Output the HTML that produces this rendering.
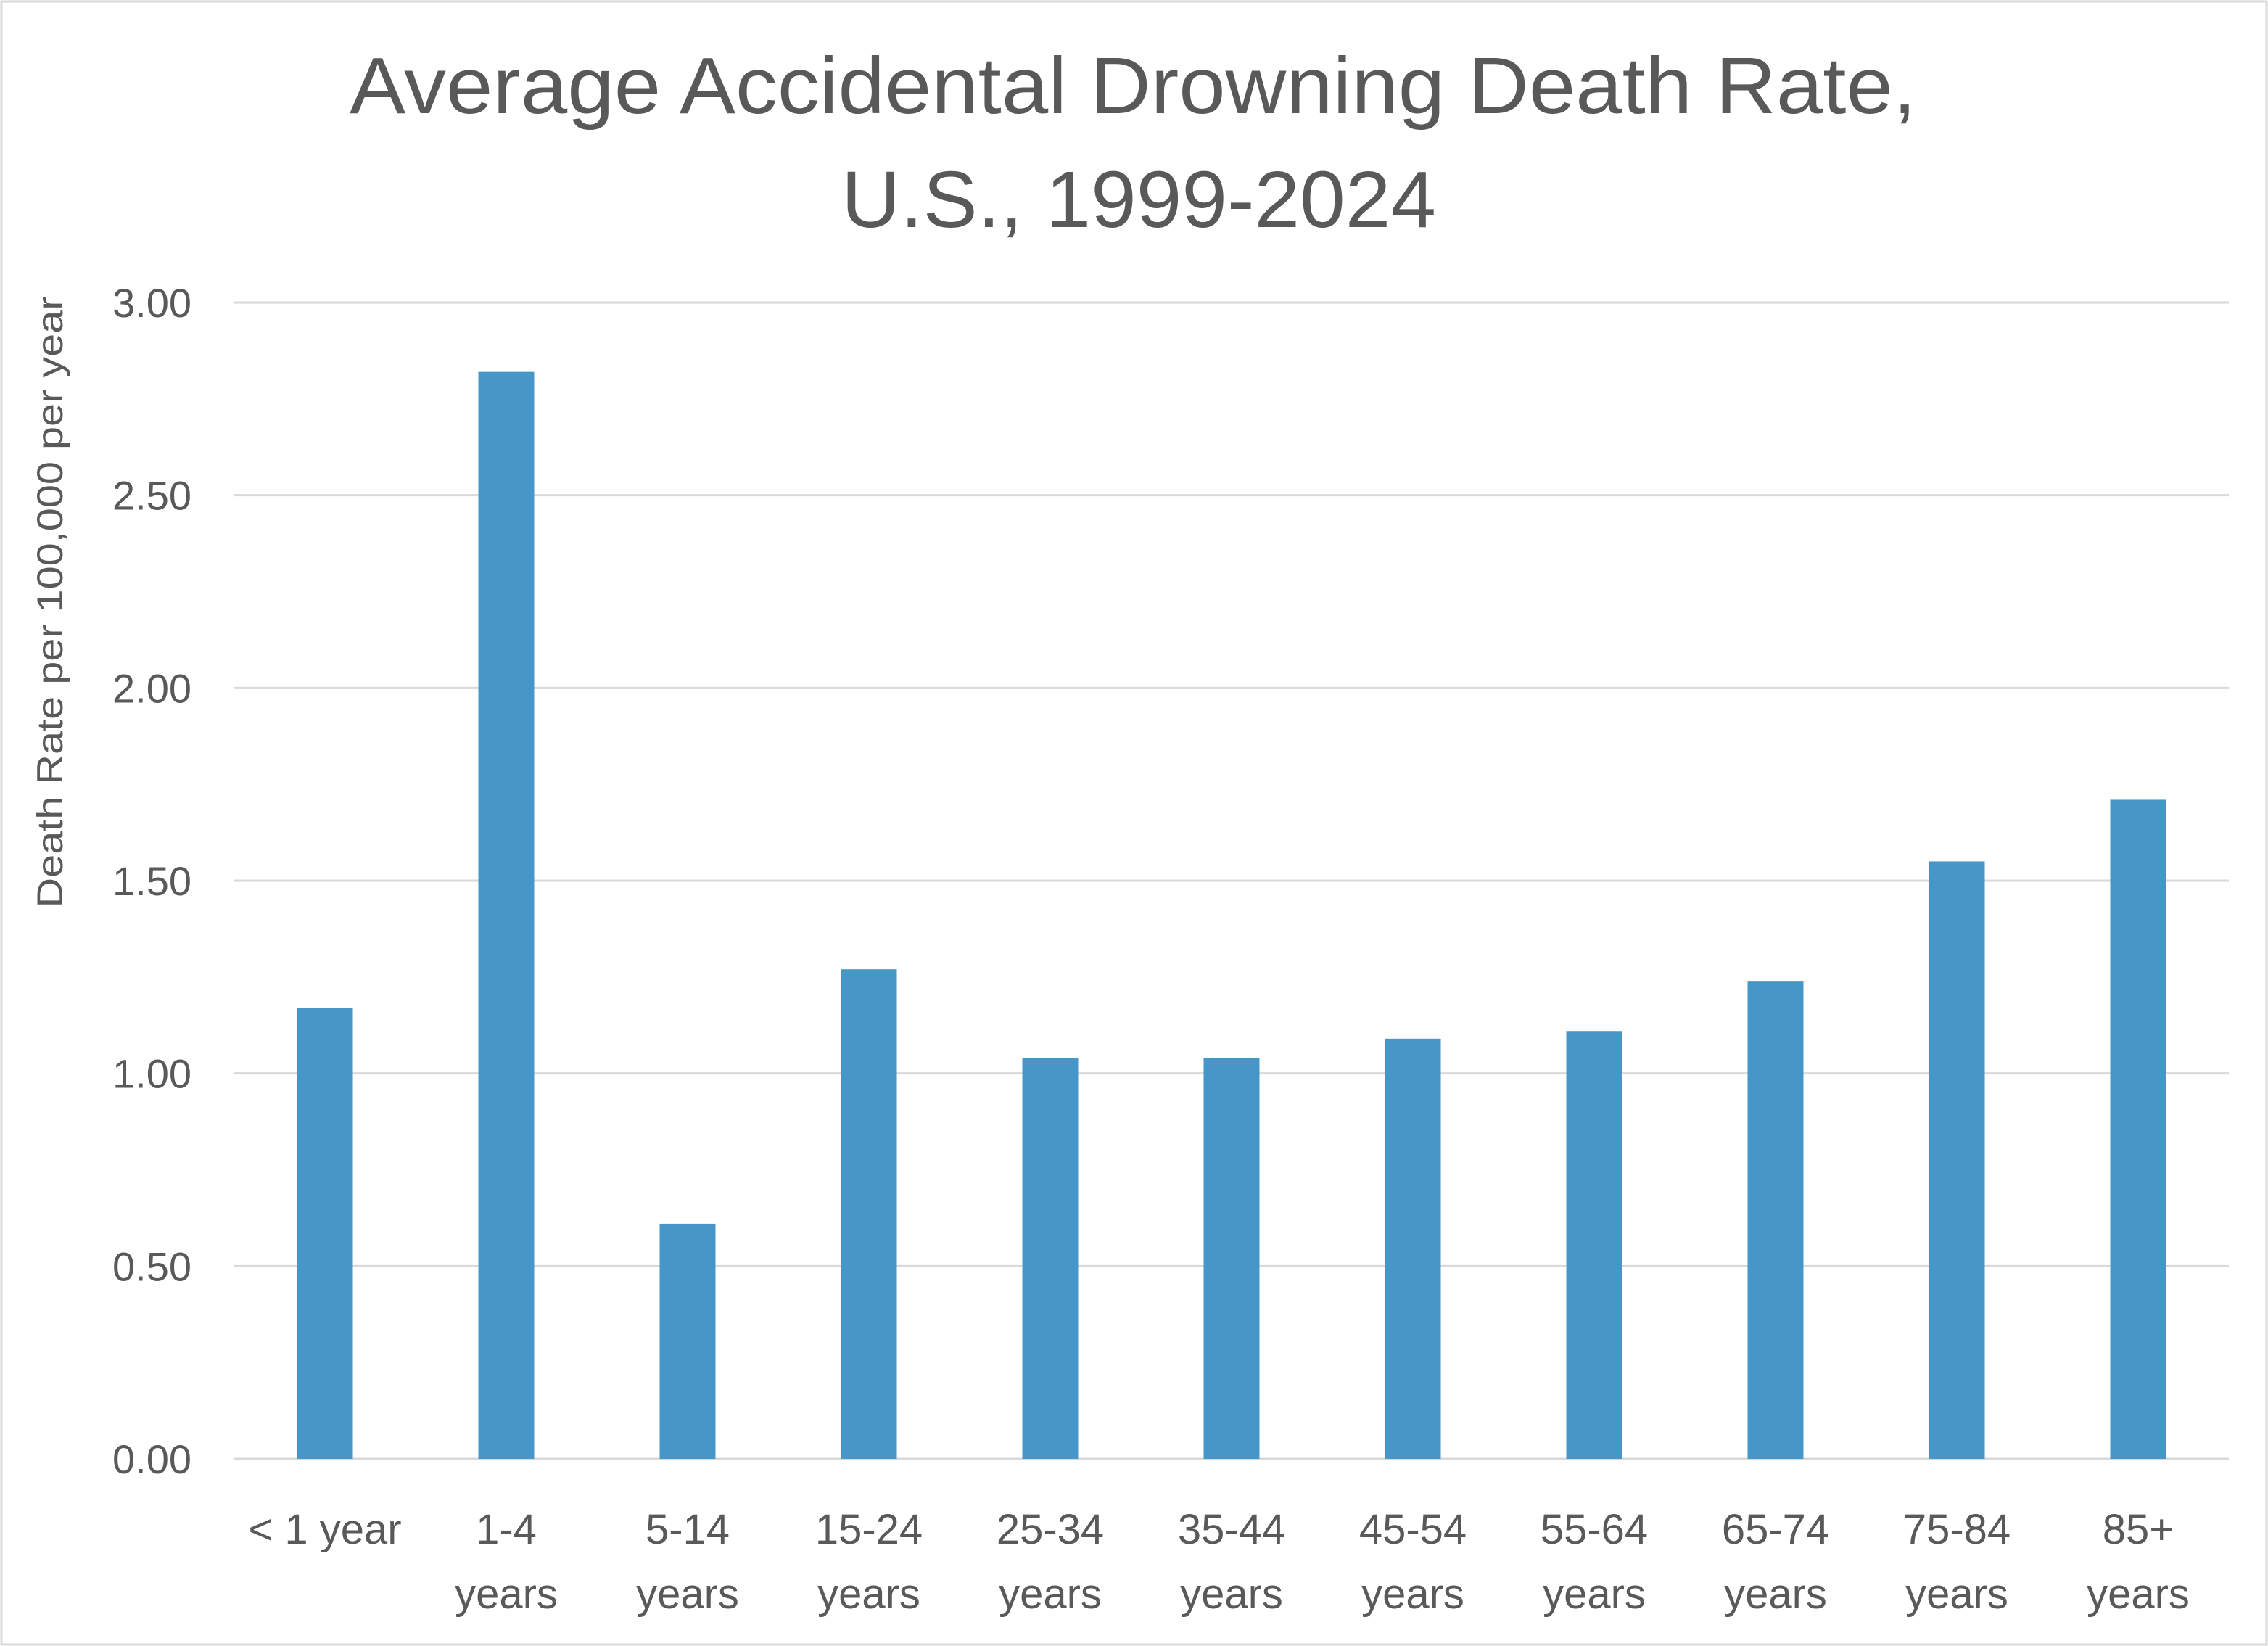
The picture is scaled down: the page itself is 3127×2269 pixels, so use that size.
<!DOCTYPE html>
<html><head><meta charset="utf-8"><style>
html,body{margin:0;padding:0;background:#fff;}
svg{display:block;font-family:"Liberation Sans",sans-serif;}
</style></head><body>
<svg id="chart" width="3127" height="2269" viewBox="0 0 3127 2269" xmlns="http://www.w3.org/2000/svg">
<rect x="2" y="2" width="3123" height="2265" fill="#fff" stroke="#d9d9d9" stroke-width="3"/>
<text x="1562" y="156" text-anchor="middle" font-size="110" fill="#595959" textLength="2160" lengthAdjust="spacingAndGlyphs">Average Accidental Drowning Death Rate,</text>
<text x="1570" y="313" text-anchor="middle" font-size="110" fill="#595959" textLength="820" lengthAdjust="spacingAndGlyphs">U.S., 1999-2024</text>
<text transform="translate(86,830) rotate(-90)" text-anchor="middle" font-size="50" fill="#595959" textLength="843" lengthAdjust="spacingAndGlyphs">Death Rate per 100,000 per year</text>
<g id="grid"></g><g id="bars"></g><g id="labels"></g>
</svg>
<script>
const categories1 = ["< 1 year","1-4","5-14","15-24","25-34","35-44","45-54","55-64","65-74","75-84","85+"];
const categories2 = ["","years","years","years","years","years","years","years","years","years","years"];
const values = [1.17,2.82,0.61,1.27,1.04,1.04,1.09,1.11,1.24,1.55,1.71];
const ticks = [0,0.5,1,1.5,2,2.5,3];
const tickLabels = ["0.00","0.50","1.00","1.50","2.00","2.50","3.00"];

const NS="http://www.w3.org/2000/svg";
const L=323,R=3073,Y0=2011,Y3=417,YMAX=3;
const y=v=>Y0-(v/YMAX)*(Y0-Y3);
const bw=(R-L)/categories1.length;
const x=i=>L+bw*(i+0.5);
function mk(t,a){const e=document.createElementNS(NS,t);for(const k in a)e.setAttribute(k,a[k]);return e;}
const grid=document.getElementById('grid'),bars=document.getElementById('bars'),labels=document.getElementById('labels');
ticks.forEach((t,i)=>{
  const ln=mk('line',{x1:L,x2:R,y1:y(t),y2:y(t),stroke:'#d9d9d9','stroke-width':3});
  
  
  grid.appendChild(ln);
  const tx=mk('text',{x:264,y:y(t)+20,'text-anchor':'end','font-size':56,fill:'#595959'});
  
  
  tx.textContent=tickLabels[i];
  labels.appendChild(tx);
});
values.forEach((v,i)=>{
  const r=mk('rect',{x:x(i)-38.5,y:y(v),width:77,height:Y0-y(v),fill:'#4697c8'});
  
  
  bars.appendChild(r);
  const t1=mk('text',{x:x(i),y:2128,'text-anchor':'middle','font-size':58,fill:'#595959'});
  
  
  t1.textContent=categories1[i];
  labels.appendChild(t1);
  if(categories2[i]){
    const t2=mk('text',{x:x(i),y:2217,'text-anchor':'middle','font-size':58,fill:'#595959'});
    
    
    t2.textContent=categories2[i];
    labels.appendChild(t2);
  }
});
</script>
</body></html>
